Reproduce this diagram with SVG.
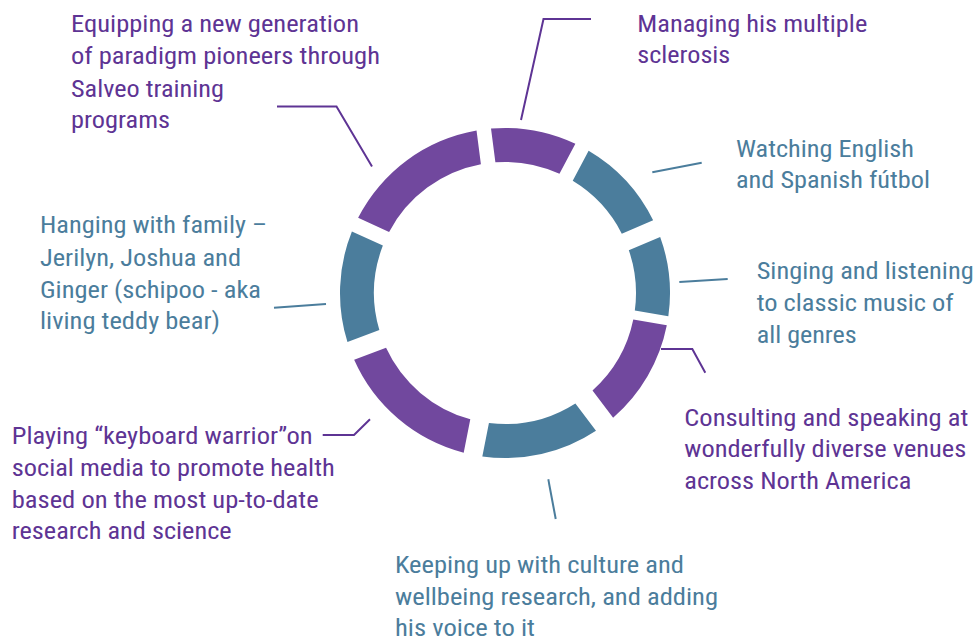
<svg xmlns="http://www.w3.org/2000/svg" width="976" height="638" viewBox="0 0 976 638">
  <style>
    .lbl { font-family: "Roboto Condensed", Roboto, "Liberation Sans", sans-serif; font-size: 24px; }
    .p { fill: #5E3494; }
    .t { fill: #4B7D9C; }
    .segP { fill: #71489E; }
    .segT { fill: #4B7D9C; }
    .lnP { fill: none; stroke: #5E3494; stroke-width: 2; }
    .lnT { fill: none; stroke: #4B7D9C; stroke-width: 2; }
  </style>
  <rect width="976" height="638" fill="#ffffff"/>

  <!-- ring of eight segments around (505,293), radii 131..165 -->
  <g id="ring">
    <path id="seg-ms" class="segP" d="M491.01 128.59 A165 165 0 0 1 575.37 143.76 L559.47 173.86 A131 131 0 0 0 495.39 162.35 Z"/>
    <path id="seg-futbol" class="segT" d="M588.63 150.77 A165 165 0 0 1 653.14 220.34 L621.79 233.66 A131 131 0 0 0 572.73 180.87 Z"/>
    <path id="seg-music" class="segT" d="M660.17 236.91 A165 165 0 0 1 668.34 316.35 L634.81 310.62 A131 131 0 0 0 628.82 250.22 Z"/>
    <path id="seg-consulting" class="segP" d="M666.82 325.23 A165 165 0 0 1 613.12 417.63 L592.51 390.49 A131 131 0 0 0 633.29 319.49 Z"/>
    <path id="seg-culture" class="segT" d="M595.99 430.65 A165 165 0 0 1 482.32 456.43 L488.94 423.01 A131 131 0 0 0 575.38 403.49 Z"/>
    <path id="seg-keyboard" class="segP" d="M463.69 452.74 A165 165 0 0 1 354.15 359.85 L386.05 347.87 A131 131 0 0 0 470.30 419.32 Z"/>
    <path id="seg-family" class="segT" d="M347.46 342.07 A165 165 0 0 1 351.90 231.46 L382.88 245.60 A131 131 0 0 0 379.36 330.08 Z"/>
    <path id="seg-training" class="segP" d="M358.12 217.83 A165 165 0 0 1 476.53 130.47 L480.91 164.23 A131 131 0 0 0 389.10 231.95 Z"/>
  </g>

  <!-- leader lines -->
  <g id="connectors">
    <polyline class="lnP" points="277,106.5 336.5,106.5 372,166.5"/>
    <polyline class="lnP" points="591,19 543.5,19 521,120"/>
    <line class="lnT" x1="652.3" y1="172.3" x2="701.7" y2="162.7"/>
    <line class="lnT" x1="679.3" y1="282" x2="727.7" y2="279"/>
    <polyline class="lnP" points="661,349 692.3,349 705.3,372.7"/>
    <line class="lnT" x1="548.3" y1="479.3" x2="555.7" y2="519"/>
    <polyline class="lnP" points="322.7,435 354,435 370,419.3"/>
    <line class="lnT" x1="274" y1="307.7" x2="326" y2="304"/>
  </g>

  <g id="node-training" class="lbl p">
    <text x="71" y="32.3" textLength="288" lengthAdjust="spacingAndGlyphs">Equipping a new generation</text>
    <text x="71" y="64.3" textLength="309" lengthAdjust="spacingAndGlyphs">of paradigm pioneers through</text>
    <text x="71" y="96.5" textLength="153" lengthAdjust="spacingAndGlyphs">Salveo training</text>
    <text x="71" y="128.3" textLength="99" lengthAdjust="spacingAndGlyphs">programs</text>
  </g>

  <g id="node-ms" class="lbl p">
    <text x="637.3" y="31.7" textLength="230" lengthAdjust="spacingAndGlyphs">Managing his multiple</text>
    <text x="637.3" y="63" textLength="93" lengthAdjust="spacingAndGlyphs">sclerosis</text>
  </g>

  <g id="node-futbol" class="lbl t">
    <text x="736" y="156.7" textLength="178" lengthAdjust="spacingAndGlyphs">Watching English</text>
    <text x="736" y="187.5" textLength="194" lengthAdjust="spacingAndGlyphs">and Spanish fútbol</text>
  </g>

  <g id="node-family" class="lbl t">
    <text x="40" y="233.3" textLength="227" lengthAdjust="spacingAndGlyphs">Hanging with family –</text>
    <text x="40" y="265.7" textLength="201" lengthAdjust="spacingAndGlyphs">Jerilyn, Joshua and</text>
    <text x="40" y="297.7" textLength="221" lengthAdjust="spacingAndGlyphs">Ginger (schipoo - aka</text>
    <text x="40" y="329.3" textLength="180" lengthAdjust="spacingAndGlyphs">living teddy bear)</text>
  </g>

  <g id="node-music" class="lbl t">
    <text x="756.7" y="279.3" textLength="217" lengthAdjust="spacingAndGlyphs">Singing and listening</text>
    <text x="756.7" y="311" textLength="197" lengthAdjust="spacingAndGlyphs">to classic music of</text>
    <text x="756.7" y="342.7" textLength="100" lengthAdjust="spacingAndGlyphs">all genres</text>
  </g>

  <g id="node-consulting" class="lbl p">
    <text x="684.3" y="426" textLength="284" lengthAdjust="spacingAndGlyphs">Consulting and speaking at</text>
    <text x="684.3" y="457.3" textLength="282" lengthAdjust="spacingAndGlyphs">wonderfully diverse venues</text>
    <text x="684.3" y="489" textLength="227" lengthAdjust="spacingAndGlyphs">across North America</text>
  </g>

  <g id="node-keyboard" class="lbl p">
    <text x="11.7" y="444.3" textLength="301" lengthAdjust="spacingAndGlyphs">Playing “keyboard warrior”on</text>
    <text x="11.7" y="475.7" textLength="323" lengthAdjust="spacingAndGlyphs">social media to promote health</text>
    <text x="11.7" y="507.7" textLength="307" lengthAdjust="spacingAndGlyphs">based on the most up-to-date</text>
    <text x="11.7" y="539.3" textLength="220" lengthAdjust="spacingAndGlyphs">research and science</text>
  </g>

  <g id="node-culture" class="lbl t">
    <text x="395" y="573.3" textLength="289" lengthAdjust="spacingAndGlyphs">Keeping up with culture and</text>
    <text x="395" y="605" textLength="323" lengthAdjust="spacingAndGlyphs">wellbeing research, and adding</text>
    <text x="395" y="635.5" textLength="140" lengthAdjust="spacingAndGlyphs">his voice to it</text>
  </g>
</svg>
